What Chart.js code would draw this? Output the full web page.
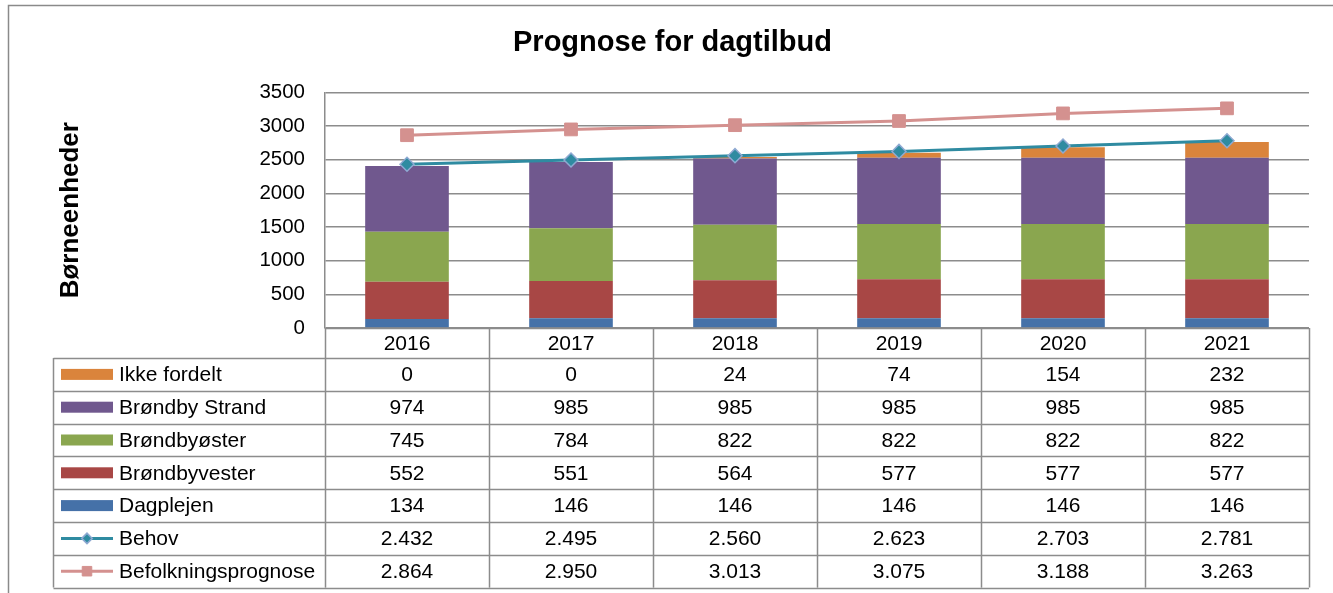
<!DOCTYPE html>
<html>
<head>
<meta charset="utf-8">
<script src="https://cdn.jsdelivr.net/npm/chart.js@4"></script>
<style>
  body { margin: 0; background: #fff; }
</style>
</head>
<body>
<canvas id="myChart" width="1333" height="593"></canvas>
<script>
var years = ["2016", "2017", "2018", "2019", "2020", "2021"];
var ikkeFordelt = [0, 0, 24, 74, 154, 232];
var brondbyStrand = [974, 985, 985, 985, 985, 985];
var brondbyoster = [745, 784, 822, 822, 822, 822];
var brondbyvester = [552, 551, 564, 577, 577, 577];
var dagplejen = [134, 146, 146, 146, 146, 146];
var behov = [2432, 2495, 2560, 2623, 2703, 2781];
var befolkning = [2864, 2950, 3013, 3075, 3188, 3263];
var yTicks = [0, 500, 1000, 1500, 2000, 2500, 3000, 3500];

var font = "'Liberation Sans', Arial, sans-serif";
var gridColor = "#8c8c8c";

// dansk tusindtalsseparator
function fmt(v) {
  return String(v).replace(/\B(?=(\d{3})+(?!\d))/g, ".");
}

// rækkefølge i datatabellen (index i datasets)
var tableRows = [4, 3, 2, 1, 0, 5, 6];

var frame = {
  id: "frame",
  beforeDraw: function (chart) {
    var c = chart.ctx;
    c.save();
    c.strokeStyle = "#8a8a8a";
    c.lineWidth = 1.5;
    c.strokeRect(8.5, 5.5, 1400, 700);
    c.restore();
  },
};

var dataTable = {
  id: "dataTable",
  afterDraw: function (chart) {
    var c = chart.ctx;
    var x = chart.scales.x;
    var area = chart.chartArea;
    var n = years.length;
    var w = (area.right - area.left) / n;
    var top = area.bottom;
    var headH = 30;
    var rowH = 32.8;
    var tableLeft = 53.5;
    var rowsTop = top + headH;
    var bottom = rowsTop + rowH * tableRows.length;

    c.save();
    c.strokeStyle = gridColor;
    c.lineWidth = 1.5;
    // lodrette linjer
    c.beginPath();
    for (var i = 0; i <= n; i++) {
      var bx = Math.round(area.left + i * w) + 0.5;
      c.moveTo(bx, top);
      c.lineTo(bx, bottom);
    }
    c.moveTo(tableLeft, rowsTop);
    c.lineTo(tableLeft, bottom);
    // vandrette linjer
    c.moveTo(area.left, top + 0.5);
    c.lineTo(area.right, top + 0.5);
    for (var r = 0; r <= tableRows.length; r++) {
      var by = Math.round(rowsTop + r * rowH) + 0.5;
      c.moveTo(tableLeft, by);
      c.lineTo(area.right, by);
    }
    c.stroke();

    c.fillStyle = "#000";
    c.font = "21px " + font;
    c.textAlign = "center";
    c.textBaseline = "middle";
    for (var i = 0; i < n; i++) {
      c.fillText(years[i], x.getPixelForValue(i), top + headH / 2 + 1);
    }

    tableRows.forEach(function (di, r) {
      var ds = chart.data.datasets[di];
      var cy = rowsTop + r * rowH + rowH / 2;
      // legendenøgle
      if (ds.type === "line") {
        c.strokeStyle = ds.borderColor;
        c.lineWidth = 3;
        c.beginPath();
        c.moveTo(61, cy);
        c.lineTo(113, cy);
        c.stroke();
        c.fillStyle = ds.pointBackgroundColor;
        c.strokeStyle = ds.pointBorderColor;
        c.lineWidth = ds.pointBorderWidth;
        c.beginPath();
        var rr = ds.pointRadius * 0.75;
        if (ds.pointStyle === "rectRot") {
          c.moveTo(87 - rr, cy); c.lineTo(87, cy - rr); c.lineTo(87 + rr, cy); c.lineTo(87, cy + rr); c.closePath();
        } else {
          var s = rr * Math.SQRT1_2;
          c.rect(87 - s, cy - s, 2 * s, 2 * s);
        }
        c.fill();
        c.stroke();
      } else {
        c.fillStyle = ds.backgroundColor;
        c.fillRect(61, cy - 5.5, 52, 11);
      }
      c.fillStyle = "#000";
      c.textAlign = "left";
      c.fillText(ds.label, 119, cy + 1);
      c.textAlign = "center";
      for (var i = 0; i < n; i++) {
        c.fillText(fmt(ds.data[i]), x.getPixelForValue(i), cy + 1);
      }
    });
    c.restore();
  },
};

var ctx = document.getElementById("myChart").getContext("2d");

var myChart = new Chart(ctx, {
  type: "bar",
  data: {
    labels: years,
    datasets: [
      { label: "Dagplejen", data: dagplejen, backgroundColor: "#4571a8", order: 1 },
      { label: "Brøndbyvester", data: brondbyvester, backgroundColor: "#a84745", order: 1 },
      { label: "Brøndbyøster", data: brondbyoster, backgroundColor: "#8aa64f", order: 1 },
      { label: "Brøndby Strand", data: brondbyStrand, backgroundColor: "#70588e", order: 1 },
      { label: "Ikke fordelt", data: ikkeFordelt, backgroundColor: "#da843c", order: 1 },
      {
        type: "line",
        label: "Behov",
        data: behov,
        borderColor: "#2f8ba1",
        borderWidth: 3,
        pointStyle: "rectRot",
        pointRadius: 7,
        pointBackgroundColor: "#2f8ba1",
        pointBorderColor: "#8ea9d2",
        pointBorderWidth: 1.5,
        stack: "behov",
        order: 0,
      },
      {
        type: "line",
        label: "Befolkningsprognose",
        data: befolkning,
        borderColor: "#d4918f",
        borderWidth: 3,
        pointStyle: "rect",
        pointRadius: 9,
        pointBackgroundColor: "#d4918f",
        pointBorderColor: "#d4918f",
        pointBorderWidth: 1,
        stack: "befolkning",
        order: 0,
      },
    ],
  },
  options: {
    responsive: false,
    animation: false,
    layout: { padding: { left: 36, top: 0, right: 24, bottom: 265 } },
    datasets: { bar: { barPercentage: 0.51, categoryPercentage: 1 } },
    plugins: {
      legend: { display: false },
      tooltip: { enabled: false },
      title: {
        display: true,
        text: "Prognose for dagtilbud",
        color: "#000",
        font: { family: font, size: 29, weight: "bold", lineHeight: 1.2 },
        padding: { top: 26, bottom: 31.6 },
      },
    },
    scales: {
      x: { display: false, stacked: true },
      y: {
        stacked: true,
        min: 0,
        max: 3500,
        afterFit: function (scale) { scale.width = 289; },
        afterBuildTicks: function (scale) {
          scale.ticks = yTicks.map(function (v) { return { value: v }; });
        },
        ticks: {
          color: "#000",
          padding: 20,
          font: { family: font, size: 20.5 },
          callback: function (v) { return String(v); },
        },
        grid: { color: gridColor, lineWidth: 1.5, drawTicks: false },
        border: { color: gridColor, width: 1.5 },
        title: {
          display: true,
          text: "Børneenheder",
          color: "#000",
          font: { family: font, size: 26, weight: "bold", lineHeight: 1.2 },
          padding: { top: 19, bottom: 0 },
        },
      },
    },
  },
  plugins: [frame, dataTable],
});
</script>
</body>
</html>
